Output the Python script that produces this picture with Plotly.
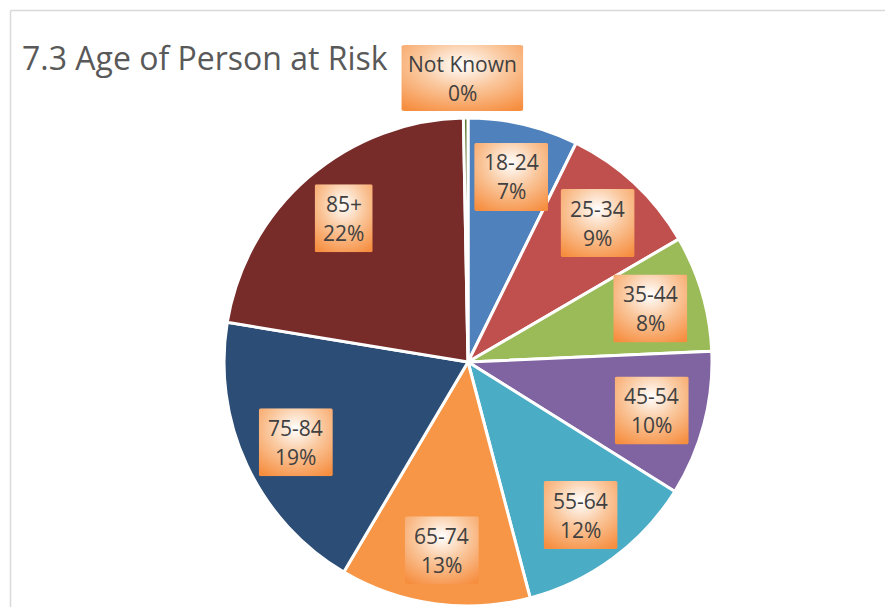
import base64
import math
import plotly.graph_objects as go

# data (share of persons at risk)
age_groups = ['18-24', '25-34', '35-44', '45-54', '55-64', '65-74', '75-84', '85+', 'Not Known']
shares = [7.3, 9.3, 7.7, 9.6, 12.0, 12.6, 19.1, 22.1, 0.3]

colors = ['#4F81BD', '#C0504D', '#9BBB59', '#8064A2', '#4BACC6',
          '#F79646', '#2C4D75', '#772C2A', '#5F7530']

# page body has an 8px margin; keep the figure inside the window (no scrollbars)
OFF = 8
W, H = 893 - 2 * OFF, 615 - 2 * OFF
cx, cy, r = 468 - OFF, 362 - OFF, 244     # pie centre / radius in pixels

FONT = 'Open Sans, sans-serif'

# orange "from centre" gradient used behind each data label
svg = ('<svg xmlns="http://www.w3.org/2000/svg" width="100" height="100" '
       'preserveAspectRatio="none" viewBox="0 0 100 100">'
       '<defs><radialGradient id="g" cx="50%" cy="30%" r="80%">'
       '<stop offset="0" stop-color="#FFFFFF"/>'
       '<stop offset="0.45" stop-color="#FAC89E"/>'
       '<stop offset="1" stop-color="#F68E40"/>'
       '</radialGradient></defs>'
       '<rect x="0" y="0" width="100" height="100" rx="3" ry="3" fill="url(#g)"/></svg>')
grad_src = 'data:image/svg+xml;base64,' + base64.b64encode(svg.encode()).decode()

fig = go.Figure()
fig.add_trace(go.Pie(
    labels=age_groups,
    values=shares,
    sort=False,
    direction='clockwise',
    rotation=0,
    textinfo='none',
    hoverinfo='label+percent',
    marker=dict(colors=colors, line=dict(color='white', width=3)),
    domain=dict(x=[(cx - r) / W, (cx + r) / W],
                y=[(H - cy - r) / H, (H - cy + r) / H]),
    showlegend=False,
))

# data labels: boxed name + rounded percent, placed along each slice's mid angle
total = sum(shares)
images = []
annotations = []
cum = 0
for name, v in zip(age_groups, shares):
    mid = (cum + v / 2) / total * 2 * math.pi
    cum += v
    pct = round(v / total * 100)
    dist = 284 if name == 'Not Known' else 190
    px = cx + dist * math.sin(mid)
    py = cy - dist * math.cos(mid)
    if name == 'Not Known':
        px -= 3
        bw, bh = 122, 66
    else:
        bw = 58 if len(name) <= 3 else 74
        bh = 68
    images.append(dict(source=grad_src, xref='paper', yref='paper',
                       x=px / W, y=1 - py / H, sizex=bw / W, sizey=bh / H,
                       xanchor='center', yanchor='middle', sizing='stretch',
                       layer='above'))
    for txt, off in [(name, -14.5), (f'{pct}%', 14.5)]:
        annotations.append(dict(text=txt, xref='paper', yref='paper',
                                x=px / W, y=1 - (py + off) / H,
                                showarrow=False, xanchor='center', yanchor='middle',
                                font=dict(family=FONT, size=21, color='#404040')))

annotations.append(dict(text='7.3 Age of Person at Risk', xref='paper', yref='paper',
                        x=(20 - OFF) / W, y=1 - (57 - OFF) / H, xanchor='left', yanchor='middle',
                        showarrow=False,
                        font=dict(family=FONT, size=32, color='#595959')))

# chart-area frame: only top and left edges are visible in the cropped original
bx = (10.5 - OFF) / W
by = 1 - (10.5 - OFF) / H
frame = dict(color='#D9D9D9', width=1.5)

fig.update_layout(
    width=W,
    height=H,
    margin=dict(l=0, r=0, t=0, b=0),
    paper_bgcolor='white',
    plot_bgcolor='white',
    images=images,
    annotations=annotations,
    shapes=[
        dict(type='line', xref='paper', yref='paper', x0=bx, x1=1.05, y0=by, y1=by, line=frame),
        dict(type='line', xref='paper', yref='paper', x0=bx, x1=bx, y0=-0.05, y1=by, line=frame),
    ],
)

fig.write_html('out.html')
